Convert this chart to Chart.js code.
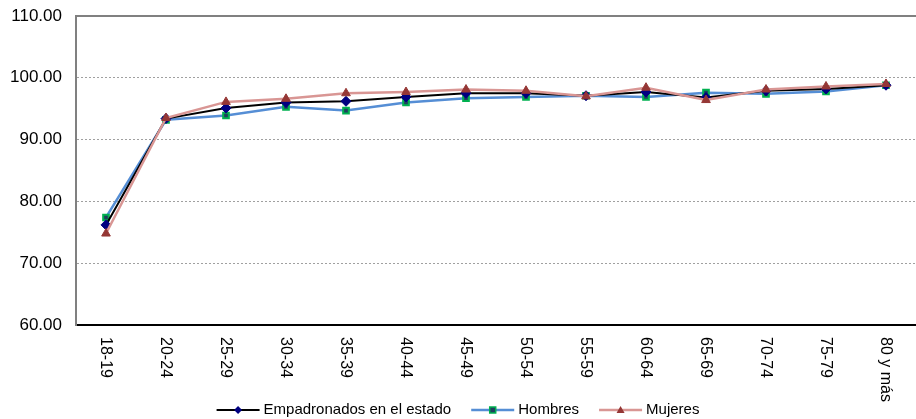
<!DOCTYPE html>
<html>
<head>
<meta charset="utf-8">
<script src="https://cdn.jsdelivr.net/npm/chart.js@4"></script>
<style>
  html, body { margin: 0; padding: 0; background: #fff; }
  #wrap { width: 916px; height: 419px; }
</style>
</head>
<body>
<div id="wrap"><canvas id="chart"></canvas></div>
<script>
// grupos de edad
var labels = ['18-19','20-24','25-29','30-34','35-39','40-44','45-49','50-54','55-59','60-64','65-69','70-74','75-79','80 y más'];
// porcentajes
var empadronados = [76.2, 93.4, 95.1, 96.0, 96.2, 96.9, 97.5, 97.5, 97.1, 97.7, 96.8, 97.9, 98.2, 98.8];
var hombres      = [77.4, 93.2, 93.9, 95.3, 94.7, 96.0, 96.7, 96.9, 97.1, 96.9, 97.6, 97.4, 97.8, 98.8];
var mujeres      = [74.8, 93.5, 96.1, 96.6, 97.5, 97.7, 98.1, 97.9, 97.0, 98.4, 96.4, 98.1, 98.6, 99.0];
var yTicks = [60, 70, 80, 90, 100, 110];

var FONT = '"Liberation Sans", Arial, sans-serif';

// etiquetas del eje x giradas en sentido horario
var xLabelsPlugin = {
  id: 'xLabels',
  afterDraw: function(chart){
    var ctx = chart.ctx, xs = chart.scales.x, area = chart.chartArea;
    ctx.save();
    ctx.font = '16px ' + FONT;
    ctx.fillStyle = '#000';
    ctx.textAlign = 'left';
    ctx.textBaseline = 'middle';
    for(let i=0; i<labels.length; i++){
      var x = xs.getPixelForValue(i);
      ctx.save();
      ctx.translate(x - 1, area.bottom + 12);
      ctx.rotate(Math.PI/2);
      ctx.fillText(labels[i], 0, 0);
      ctx.restore();
    }
    ctx.restore();
  }
};

// linea superior del marco (el lado derecho queda cortado en el original)
var framePlugin = {
  id: 'frame',
  beforeDatasetsDraw: function(chart){
    var ctx = chart.ctx, a = chart.chartArea;
    ctx.save();
    ctx.strokeStyle = '#808080';
    ctx.lineWidth = 2;
    ctx.beginPath();
    ctx.moveTo(a.left, a.top);
    ctx.lineTo(chart.width, a.top);
    ctx.stroke();
    ctx.restore();
  }
};

function drawMarker(ctx, style, x, y, fill, stroke){
  ctx.save();
  ctx.fillStyle = fill;
  ctx.strokeStyle = stroke;
  ctx.lineWidth = 1.5;
  ctx.beginPath();
  if(style == 'rectRot'){
    ctx.moveTo(x, y-4); ctx.lineTo(x+4, y); ctx.lineTo(x, y+4); ctx.lineTo(x-4, y); ctx.closePath();
    ctx.fill();
  } else if(style == 'rect'){
    ctx.rect(x-3, y-3, 6, 6);
    ctx.fill(); ctx.stroke();
  } else {
    ctx.moveTo(x, y-4); ctx.lineTo(x+4, y+3); ctx.lineTo(x-4, y+3); ctx.closePath();
    ctx.fill();
  }
  ctx.restore();
}

// leyenda con linea y marcador, como en Excel
var legendPlugin = {
  id: 'lineLegend',
  afterDraw: function(chart){
    var ctx = chart.ctx;
    var ds = chart.data.datasets;
    ctx.save();
    ctx.font = '15px ' + FONT;
    var lineW = 43, gapText = 4, gapItem = 20;
    var total = 0;
    for(let i=0; i<ds.length; i++){
      total += lineW + gapText + ctx.measureText(ds[i].label).width;
      if(i < ds.length-1) total += gapItem;
    }
    var x = chart.width/2 - total/2;
    var y = 410;
    for(let i=0; i<ds.length; i++){
      ctx.strokeStyle = ds[i].borderColor;
      ctx.lineWidth = ds[i].borderWidth;
      ctx.beginPath();
      ctx.moveTo(x, y); ctx.lineTo(x+lineW, y);
      ctx.stroke();
      drawMarker(ctx, ds[i].pointStyle, x+lineW/2, y, ds[i].pointBackgroundColor, ds[i].pointBorderColor);
      x += lineW + gapText;
      ctx.fillStyle = '#000';
      ctx.textAlign = 'left';
      ctx.textBaseline = 'middle';
      ctx.fillText(ds[i].label, x, y);
      x += ctx.measureText(ds[i].label).width + gapItem;
    }
    ctx.restore();
  }
};

function noPad(scale){
  scale.paddingTop = 0; scale.paddingBottom = 0;
  scale.paddingLeft = 0; scale.paddingRight = 0;
}

const ctx = document.getElementById('chart').getContext('2d');
const myChart = new Chart(ctx, {
  type: 'line',
  data: {
    labels: labels,
    datasets: [{
      label: 'Empadronados en el estado',
      data: empadronados,
      borderColor: '#000000',
      borderWidth: 2,
      pointStyle: 'rectRot',
      pointRadius: 5,
      pointBackgroundColor: '#000080',
      pointBorderColor: '#000080',
      pointBorderWidth: 1,
      order: 2,
    },{
      label: 'Hombres',
      data: hombres,
      borderColor: '#558ed5',
      borderWidth: 2.5,
      pointStyle: 'rect',
      pointRadius: 4,
      pointBackgroundColor: '#1f3f5f',
      pointBorderColor: '#00b050',
      pointBorderWidth: 2,
      order: 3,
    },{
      label: 'Mujeres',
      data: mujeres,
      borderColor: '#d99694',
      borderWidth: 2.5,
      pointStyle: 'triangle',
      pointRadius: 5,
      pointBackgroundColor: '#953735',
      pointBorderColor: '#953735',
      pointBorderWidth: 1,
      order: 1,
    }]
  },
  options: {
    responsive: true,
    maintainAspectRatio: false,
    animation: false,
    layout: { autoPadding: false, padding: { top: 16, right: 0, left: 0, bottom: 0 } },
    plugins: {
      legend: { display: false },
      tooltip: { enabled: false }
    },
    scales: {
      x: {
        offset: true,
        ticks: { display: false },
        grid: { display: false, drawTicks: false },
        border: { display: true, color: '#000', width: 2 },
        afterFit: function(scale){ scale.height = 94; noPad(scale); }
      },
      y: {
        min: 60,
        max: 110,
        afterBuildTicks: function(scale){ scale.ticks = yTicks.map(v => ({value: v})); },
        ticks: {
          padding: 14,
          color: '#000',
          font: { family: FONT, size: 17 },
          callback: function(v){ return Number(v).toFixed(2); }
        },
        grid: {
          drawTicks: false,
          color: function(c){ return (c.tick && (c.tick.value == 60 || c.tick.value == 110)) ? 'rgba(0,0,0,0)' : '#a0a0a0'; },
          lineWidth: 1
        },
        border: { display: true, color: '#808080', width: 2, dash: [2, 2] },
        afterFit: function(scale){ scale.width = 76; noPad(scale); }
      }
    }
  },
  plugins: [framePlugin, xLabelsPlugin, legendPlugin]
});
</script>
</body>
</html>
